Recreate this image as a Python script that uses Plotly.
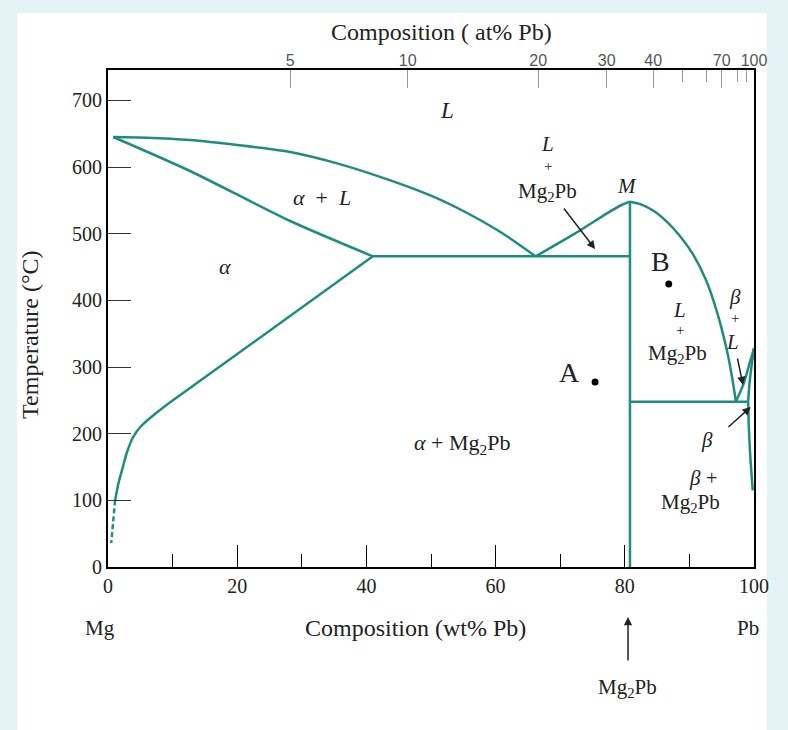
import plotly.graph_objects as go

# ---------------- data (wt% Pb, temperature in °C) ----------------
liq_mg_x = [0.8, 6, 12.7, 20, 28.2, 36, 43.7, 50, 55, 60, 63, 66.2]
liq_mg_t = [645, 644, 640.5, 633, 622.5, 604, 580, 557, 534, 507, 488, 466]

sol_mg_x = [0.8, 12.7, 28.2, 41]
sol_mg_t = [645, 594, 519, 466]

solv_mg_x = [41, 14.2, 10.1, 7.6, 5.0, 3.9, 2.9, 2.3, 1.6, 1.1]
solv_mg_t = [466, 279, 250.5, 232, 210, 195, 171, 150, 125, 100]
solv_mg_dash_x = [1.1, 0.8, 0.5]
solv_mg_dash_t = [100, 70, 36]

eut1_x = [41, 80.8]
eut1_t = [466, 466]

liq_m_left_x = [66.2, 73.1, 77.5, 79.5, 80.8]
liq_m_left_t = [466, 505, 532, 543, 548]
liq_m_right_x = [80.8, 82.5, 84.5, 86.5, 88.5, 90.5, 92.5, 94.2, 95.8, 96.6, 97.2]
liq_m_right_t = [548, 544, 534, 518, 497, 470, 432, 385, 325, 285, 248]

mg2pb_x = [80.8, 80.8]
mg2pb_t = [0, 548]

eut2_x = [80.8, 99.1]
eut2_t = [248, 248]

liq_pb_x = [97.2, 98.4, 99.3, 100]
liq_pb_t = [248, 275, 305, 328]
sol_pb_x = [100, 99.6, 99.3, 99.1]
sol_pb_t = [328, 300, 275, 248]
solv_pb_x = [99.1, 99.2, 99.4, 99.8]
solv_pb_t = [248, 210, 170, 115]

points_x = [86.8, 75.4]
points_t = [424.5, 277.5]

bottom_ticks = [0, 20, 40, 60, 80, 100]
bottom_minor = [10, 30, 50, 70, 90]
left_ticks = [0, 100, 200, 300, 400, 500, 600, 700]

top_tick_pos = [28.2, 46.4, 66.6, 77.2, 84.4, 95.0, 100]
top_tick_txt = ["5", "10", "20", "30", "40", "70", "100"]
top_minor_pos = [89.0, 92.6, 97.4, 98.9]

TEAL = "#1e8c7e"
SERIF = "Liberation Serif"
TXT = "#222222"

fig = go.Figure()

def line(x, y, dash="solid"):
    fig.add_trace(go.Scatter(x=x, y=y, mode="lines",
                             line=dict(color=TEAL, width=2.5, dash=dash, shape="spline", smoothing=0.7),
                             hoverinfo="skip", showlegend=False))

def straight(x, y):
    fig.add_trace(go.Scatter(x=x, y=y, mode="lines",
                             line=dict(color=TEAL, width=2.5),
                             hoverinfo="skip", showlegend=False))

line(liq_mg_x, liq_mg_t)
line(sol_mg_x, sol_mg_t)
line(solv_mg_x, solv_mg_t)
fig.add_trace(go.Scatter(x=solv_mg_dash_x, y=solv_mg_dash_t, mode="lines",
                         line=dict(color=TEAL, width=2.5, dash="5px,3px"),
                         hoverinfo="skip", showlegend=False))
straight(eut1_x, eut1_t)
line(liq_m_left_x, liq_m_left_t)
line(liq_m_right_x, liq_m_right_t)
straight(mg2pb_x, mg2pb_t)
straight(eut2_x, eut2_t)
line(liq_pb_x, liq_pb_t)
line(sol_pb_x, sol_pb_t)
line(solv_pb_x, solv_pb_t)

fig.add_trace(go.Scatter(x=points_x, y=points_t, mode="markers",
                         marker=dict(color="black", size=7),
                         hoverinfo="skip", showlegend=False))

# invisible trace to activate the top axis
fig.add_trace(go.Scatter(x=[0, 100], y=[0, 0], xaxis="x2", mode="markers",
                         marker=dict(opacity=0), hoverinfo="skip", showlegend=False))

ann = []

def txt(x, y, s, size=21, **kw):
    d = dict(x=x, y=y, xref="x", yref="y", text=s, showarrow=False,
             xanchor="center", yanchor="middle",
             font=dict(family=SERIF, size=size, color=TXT))
    d.update(kw)
    ann.append(d)

txt(52.5, 685.5, "<i>L</i>", 23)
txt(33.1, 555, "<i>α</i>  +  <i>L</i>", 22)
txt(18.1, 451, "<i>α</i>", 22)
txt(68.1, 635, "<i>L</i>")
txt(68.1, 602, "+", 15)
txt(68.1, 562, "Mg<sub>2</sub>Pb")
txt(80.3, 572, "<i>M</i>")
txt(85.6, 459, "B", 28)
txt(71.5, 292, "A", 28)
txt(88.5, 385, "<i>L</i>")
txt(88.5, 356, "+", 15)
txt(88.1, 319, "Mg<sub>2</sub>Pb")
txt(97.1, 405, "<i>β</i>")
txt(97.1, 373, "+", 15)
txt(96.7, 338, "<i>L</i>")
txt(92.7, 190.5, "<i>β</i>")
txt(54.8, 184.5, "<i>α</i> + Mg<sub>2</sub>Pb", 22)
txt(92.2, 134, "<i>β</i> +")
txt(90.1, 96, "Mg<sub>2</sub>Pb")

def arrow(x0, y0, x1, y1):
    ann.append(dict(x=x1, y=y1, ax=x0, ay=y0, xref="x", yref="y", axref="x", ayref="y",
                    text="", showarrow=True, arrowhead=2, arrowsize=1.1, arrowwidth=1.5,
                    arrowcolor=TXT))

arrow(70.4, 540, 75.4, 477)
arrow(97.4, 315, 98.3, 273)
arrow(95.8, 208, 99.5, 240)

def ptxt(x, y, s, size=21, **kw):
    d = dict(x=x, y=y, xref="paper", yref="paper", text=s, showarrow=False,
             xanchor="center", yanchor="middle",
             font=dict(family=SERIF, size=size, color=TXT))
    d.update(kw)
    ann.append(d)

ptxt(-0.1207, 0.467, "Temperature (°C)", 24, textangle=-90)
ptxt(0.517, 1.0765, "Composition ( at% Pb)", 24)
ptxt(-0.0124, -0.1227, "Mg", 21)
ptxt(0.4765, -0.1227, "Composition (wt% Pb)", 24)
ptxt(0.991, -0.1227, "Pb", 21)
ptxt(0.804, -0.2435, "Mg<sub>2</sub>Pb", 21)
ann.append(dict(x=0.805, y=-0.1006, ax=0, ay=45, xref="paper", yref="paper",
                axref="pixel", ayref="pixel", text="", showarrow=True, arrowhead=2,
                arrowsize=1.1, arrowwidth=1.5, arrowcolor=TXT))

fig.update_layout(
    width=788, height=730,
    margin=dict(l=108, r=34, t=70, b=163),
    paper_bgcolor="#e4f4f6",
    plot_bgcolor="white",
    annotations=ann,
    shapes=[dict(type="rect", xref="paper", yref="paper",
                 x0=-0.1409, x1=1.0201, y0=-0.33, y1=1.1147,
                 fillcolor="white", line=dict(width=0), layer="below")],
    xaxis=dict(range=[0, 100], showgrid=False, zeroline=False,
               showline=True, linecolor="black", linewidth=2, mirror=True,
               tickmode="array", tickvals=bottom_ticks, ticks="inside", ticklen=22,
               tickcolor="black", tickwidth=1.3,
               minor=dict(tickmode="array", tickvals=bottom_minor, ticks="inside",
                          ticklen=13, tickcolor="black", tickwidth=1.3),
               tickfont=dict(family=SERIF, size=20, color=TXT)),
    xaxis2=dict(range=[0, 100], overlaying="x", side="top", showgrid=False,
                zeroline=False, showline=False,
                tickmode="array", tickvals=top_tick_pos, ticktext=top_tick_txt,
                ticks="inside", ticklen=18, tickcolor="#999999", tickwidth=1,
                minor=dict(tickmode="array", tickvals=top_minor_pos, ticks="inside",
                           ticklen=12, tickcolor="#999999", tickwidth=1),
                tickfont=dict(family="Liberation Sans", size=16, color="#555555")),
    yaxis=dict(range=[0, 745.5], showgrid=False, zeroline=False,
               showline=True, linecolor="black", linewidth=2, mirror=True,
               tickmode="array", tickvals=left_ticks, ticks="inside", ticklen=23,
               tickcolor="#333333", tickwidth=1.3,
               tickfont=dict(family=SERIF, size=20, color=TXT)),
)

fig.write_html("out.html")
